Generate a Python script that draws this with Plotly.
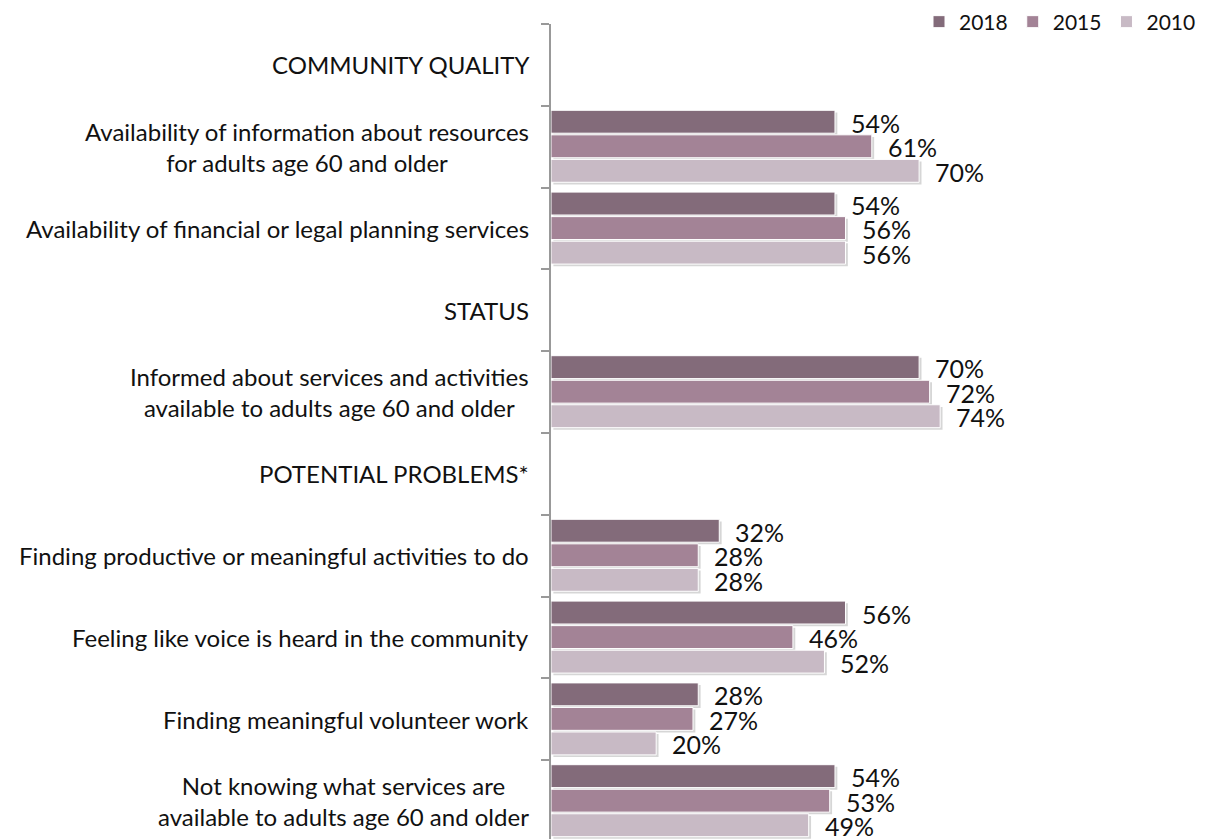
import plotly.graph_objects as go

categories = [
    "COMMUNITY QUALITY",
    "Availability of information about resources<br>for adults age 60 and older",
    "Availability of financial or legal planning services",
    "STATUS",
    "Informed about services and activities<br>available to adults age 60 and older",
    "POTENTIAL PROBLEMS*",
    "Finding productive or meaningful activities to do",
    "Feeling like voice is heard in the community",
    "Finding meaningful volunteer work",
    "Not knowing what services are<br>available to adults age 60 and older",
]
years = ["2018", "2015", "2010"]
v2018 = [None, 54, 54, None, 70, None, 32, 56, 28, 54]
v2015 = [None, 61, 56, None, 72, None, 28, 46, 27, 53]
v2010 = [None, 70, 56, None, 74, None, 28, 52, 20, 49]

series = [v2018, v2015, v2010]
colors = ["#836b7a", "#a38396", "#c8bac5"]
FONT = "Lato"

ypos = list(range(len(categories)))
bar_w = 0.28
centers = [-0.305, -0.005, 0.295]

fig = go.Figure()

# shadows
for vals, c in zip(series, centers):
    fig.add_trace(go.Bar(
        y=ypos, x=vals, orientation="h", base=0.45,
        offset=c - bar_w / 2 + 0.026, width=bar_w,
        marker=dict(color="rgba(0,0,0,0.16)", line=dict(width=0)),
        showlegend=False, hoverinfo="skip",
    ))

for name, vals, col, c in zip(years, series, colors, centers):
    fig.add_trace(go.Bar(
        y=ypos, x=vals, orientation="h", name=name,
        offset=c - bar_w / 2, width=bar_w,
        marker=dict(color=col, line=dict(color="white", width=1)),
    ))

annotations = []
for i, lab in enumerate(categories):
    annotations.append(dict(
        x=0, xref="paper", y=i, yref="y", text=lab, showarrow=False,
        xanchor="right", yanchor="middle", align="center", xshift=-20,
        font=dict(family=FONT, size=24, color="#111"),
    ))
for vals, c in zip(series, centers):
    for i, v in enumerate(vals):
        if v is None:
            continue
        annotations.append(dict(
            x=v, xref="x", y=i + c, yref="y", text=f"{v}%", showarrow=False,
            xanchor="left", yanchor="middle", xshift=14, yshift=-1,
            font=dict(family=FONT, size=25, color="#111"),
        ))

fig.update_layout(
    width=1193, height=834,
    margin=dict(l=543, r=0, t=16, b=0, autoexpand=False),
    barmode="overlay",
    plot_bgcolor="white", paper_bgcolor="white",
    font=dict(family=FONT, size=22, color="#111"),
    xaxis=dict(range=[0, 123.6], visible=False),
    yaxis=dict(
        range=[9.5, -0.5],
        tickvals=[i - 0.5 for i in range(11)],
        showticklabels=False, ticks="outside", ticklen=8, tickwidth=1.5,
        tickcolor="#999", showline=True, linecolor="#999", linewidth=1.5,
        showgrid=False, zeroline=False,
    ),
    legend=dict(
        orientation="h", x=1.0, xanchor="right", xref="container",
        y=1 - 14 / 834, yanchor="middle", yref="container",
        font=dict(family=FONT, size=21, color="#111"),
        itemwidth=30, traceorder="normal", bgcolor="rgba(0,0,0,0)",
    ),
    annotations=annotations,
)

fig.write_html("out.html")
